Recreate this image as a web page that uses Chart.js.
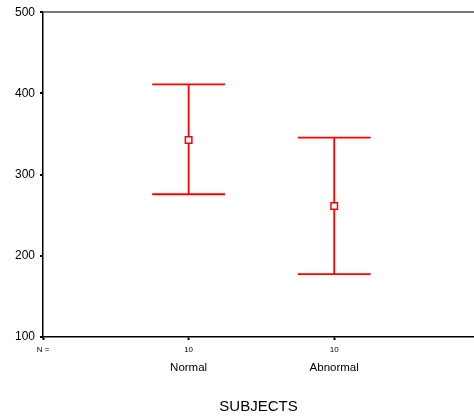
<!DOCTYPE html>
<html>
<head>
<meta charset="utf-8">
<script src="https://cdn.jsdelivr.net/npm/chart.js@4/dist/chart.umd.min.js"></script>
<style>
html,body{margin:0;padding:0;background:#fff;}
canvas{display:block;}
</style>
</head>
<body>
<canvas id="c" width="474" height="417"></canvas>
<script>
// ---- data ----
const categories = ['Normal', 'Abnormal'];
const counts = [10, 10];
const means = [342.5, 261.3];
const upper = [411, 345.5];
const lower = [275.8, 177.5];
const yTicks = [100, 200, 300, 400, 500];

const FONT = "'Liberation Sans', Arial, sans-serif";
const RED = '#ff0000';
const CAP_HALF = 0.25; // cap half-width in x units (style)

const meanPoints = categories.map((c, i) => ({x: i + 1, y: means[i]}));

const errorBars = {
  id: 'errorBars',
  beforeDatasetsDraw(chart) {
    const {ctx, scales: {x, y}} = chart;
    ctx.save();
    ctx.strokeStyle = RED;
    ctx.lineWidth = 1.8;
    categories.forEach((c, i) => {
      const cx = x.getPixelForValue(i + 1);
      const xl = x.getPixelForValue(i + 1 - CAP_HALF);
      const xr = x.getPixelForValue(i + 1 + CAP_HALF);
      const yu = y.getPixelForValue(upper[i]);
      const yl = y.getPixelForValue(lower[i]);
      ctx.beginPath();
      ctx.moveTo(cx, yu); ctx.lineTo(cx, yl);
      ctx.moveTo(xl, yu); ctx.lineTo(xr, yu);
      ctx.moveTo(xl, yl); ctx.lineTo(xr, yl);
      ctx.stroke();
    });
    ctx.restore();
  }
};

const X_MIN = 0, X_MAX = 2.96;

new Chart(document.getElementById('c'), {
  type: 'scatter',
  data: {
    datasets: [{
      data: meanPoints,
      pointStyle: 'rect',
      pointRadius: 4.6,
      pointHoverRadius: 4.6,
      borderWidth: 1.5,
      borderColor: RED,
      backgroundColor: '#ffffff'
    }]
  },
  options: {
    responsive: false,
    animation: false,
    events: [],
    layout: {autoPadding: false, padding: {top: 12, right: 0, left: 0, bottom: 0}},
    plugins: {legend: {display: false}, tooltip: {enabled: false}},
    scales: {
      x: {
        type: 'linear', position: 'bottom', weight: 0,
        min: X_MIN, max: X_MAX,
        afterBuildTicks(s) { s.ticks = [0, 1, 2].map(v => ({value: v})); },
        afterFit(s) { s.height = 20; s.paddingLeft = 0; s.paddingRight = 0; },
        ticks: {
          font: {family: FONT, size: 8}, color: '#000', padding: 5, maxRotation: 0,
          callback: (v) => v === 0 ? 'N =' : String(counts[v - 1])
        },
        grid: {display: true, drawOnChartArea: false, drawTicks: true, tickLength: 3, tickWidth: 2, tickColor: '#000'},
        border: {display: true, color: '#000', width: 1.5}
      },
      x2: {
        type: 'linear', position: 'bottom', weight: 1,
        min: X_MIN, max: X_MAX,
        afterBuildTicks(s) { s.ticks = [1, 2].map(v => ({value: v})); },
        afterFit(s) { s.height = 60; s.paddingLeft = 0; s.paddingRight = 0; },
        ticks: {
          font: {family: FONT, size: 11.5}, color: '#000', padding: 4, maxRotation: 0,
          callback: (v) => categories[v - 1]
        },
        grid: {display: false, drawTicks: false},
        border: {display: false},
        title: {display: true, text: 'SUBJECTS', font: {family: FONT, size: 15}, color: '#000', padding: {top: 0, bottom: 1}}
      },
      y: {
        min: 100, max: 500,
        afterBuildTicks(s) { s.ticks = yTicks.map(v => ({value: v})); },
        afterFit(s) { s.width = 43; },
        ticks: {font: {family: FONT, size: 12}, color: '#000', padding: 5},
        grid: {
          display: true, drawOnChartArea: true, drawTicks: true,
          tickLength: 3, tickWidth: 2, tickColor: '#000',
          color: (ctx) => (ctx.tick && ctx.tick.value === 500) ? '#777777' : 'rgba(0,0,0,0)',
          lineWidth: 2
        },
        border: {display: true, color: '#000', width: 1.5}
      }
    }
  },
  plugins: [errorBars]
});
</script>
</body>
</html>
